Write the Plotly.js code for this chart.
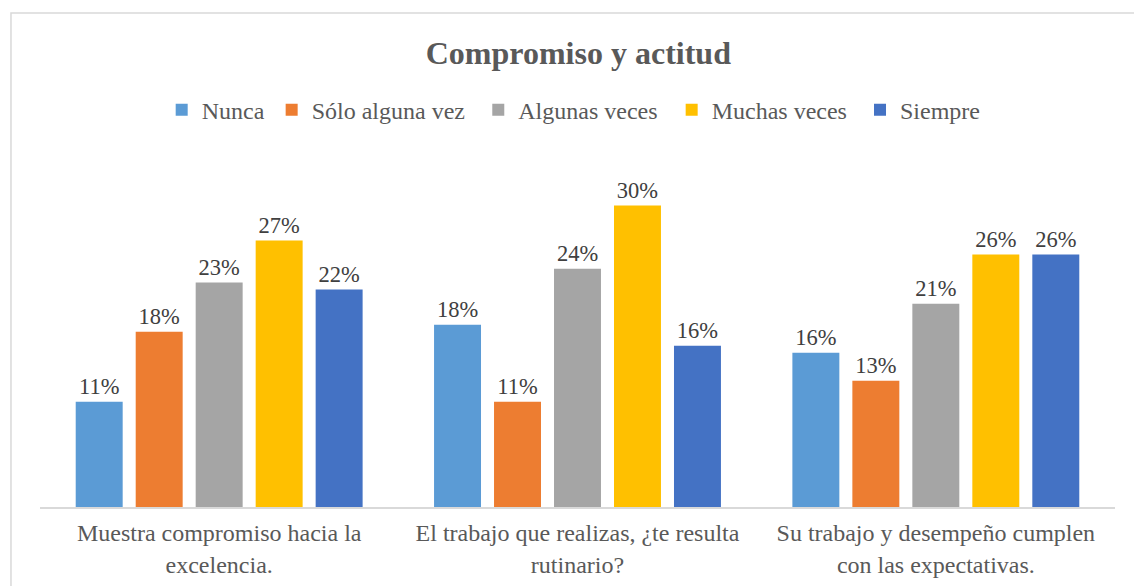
<!DOCTYPE html>
<html>
<head>
<meta charset="utf-8">
<script src="https://cdn.plot.ly/plotly-3.0.1.min.js"></script>
<style>
  html, body { margin: 0; padding: 0; background: #ffffff; }
  #chart { width: 1134px; height: 586px; }
</style>
</head>
<body>
<div id="chart"></div>
<script>
// Categories (x axis tick labels)
const categories = [
  "Muestra compromiso hacia la<br>excelencia.",
  "El trabajo que realizas, ¿te resulta<br>rutinario?",
  "Su trabajo y desempeño cumplen<br>con las expectativas."
];

// Series names
const seriesNames = ["Nunca", "Sólo alguna vez", "Algunas veces", "Muchas veces", "Siempre"];

// Series values (share of responses)
const nunca        = [0.1064, 0.1844, 0.1560];
const soloAlguna   = [0.1773, 0.1064, 0.1277];
const algunasVeces = [0.2270, 0.2411, 0.2057];
const muchasVeces  = [0.2695, 0.3049, 0.2553];
const siempre      = [0.2199, 0.1631, 0.2553];

const seriesValues = [nunca, soloAlguna, algunasVeces, muchasVeces, siempre];
const seriesColors = ["#5B9BD5", "#ED7D31", "#A5A5A5", "#FFC000", "#4472C4"];

const FONT = "'Liberation Serif', 'Times New Roman', serif";

// one legend box per series so each entry sits where the reference puts it
const legendIds = ["legend", "legend2", "legend3", "legend4", "legend5"];
const legendX   = [0.1132, 0.2155, 0.4077, 0.5876, 0.7628];

const traces = seriesNames.map((name, i) => ({
  type: "bar",
  name: name,
  x: categories,
  y: seriesValues[i],
  legend: legendIds[i],
  marker: { color: seriesColors[i], line: { width: 0 } },
  texttemplate: "%{y:.0%}",
  textposition: "outside",
  cliponaxis: false,
  textfont: { family: FONT, size: 22.5, color: "#404040" },
  hoverinfo: "skip"
}));

const layout = {
  width: 1134,
  height: 586,
  paper_bgcolor: "#ffffff",
  plot_bgcolor: "#ffffff",
  margin: { l: 40, r: 19, t: 160.5, b: 78.5, pad: 0 },
  font: { family: FONT, color: "#595959" },
  title: {
    text: "<b>Compromiso y actitud</b>",
    font: { family: FONT, size: 32, color: "#595959" },
    x: 0.51, xanchor: "center",
    y: 0.91, yanchor: "middle",
    yref: "container"
  },
  barmode: "group",
  bargap: 0.163,
  bargroupgap: 0.217,
  showlegend: true,
  xaxis: {
    type: "category",
    showline: true,
    linecolor: "#D9D9D9",
    linewidth: 1.5,
    ticks: "",
    ticklabelstandoff: 4,
    showgrid: false,
    zeroline: false,
    tickfont: { family: FONT, size: 24, color: "#595959" },
    fixedrange: true
  },
  yaxis: {
    range: [0, 0.35],
    visible: false,
    showgrid: false,
    zeroline: false,
    fixedrange: true
  },
  shapes: [{
    type: "rect",
    xref: "paper", yref: "paper",
    x0: -0.027, x1: 1.06,
    y0: -0.4, y1: 1.428,
    line: { color: "#D9D9D9", width: 1.5 },
    fillcolor: "rgba(0,0,0,0)",
    layer: "below"
  }],
  hovermode: false
};

legendIds.forEach((id, i) => {
  layout[id] = {
    orientation: "h",
    x: legendX[i], xanchor: "left", xref: "paper",
    y: 0.812, yanchor: "middle", yref: "container",
    font: { family: FONT, size: 24, color: "#595959" },
    bgcolor: "rgba(0,0,0,0)",
    borderwidth: 0
  };
});

Plotly.newPlot("chart", traces, layout, { displayModeBar: false, staticPlot: true });
</script>
</body>
</html>
